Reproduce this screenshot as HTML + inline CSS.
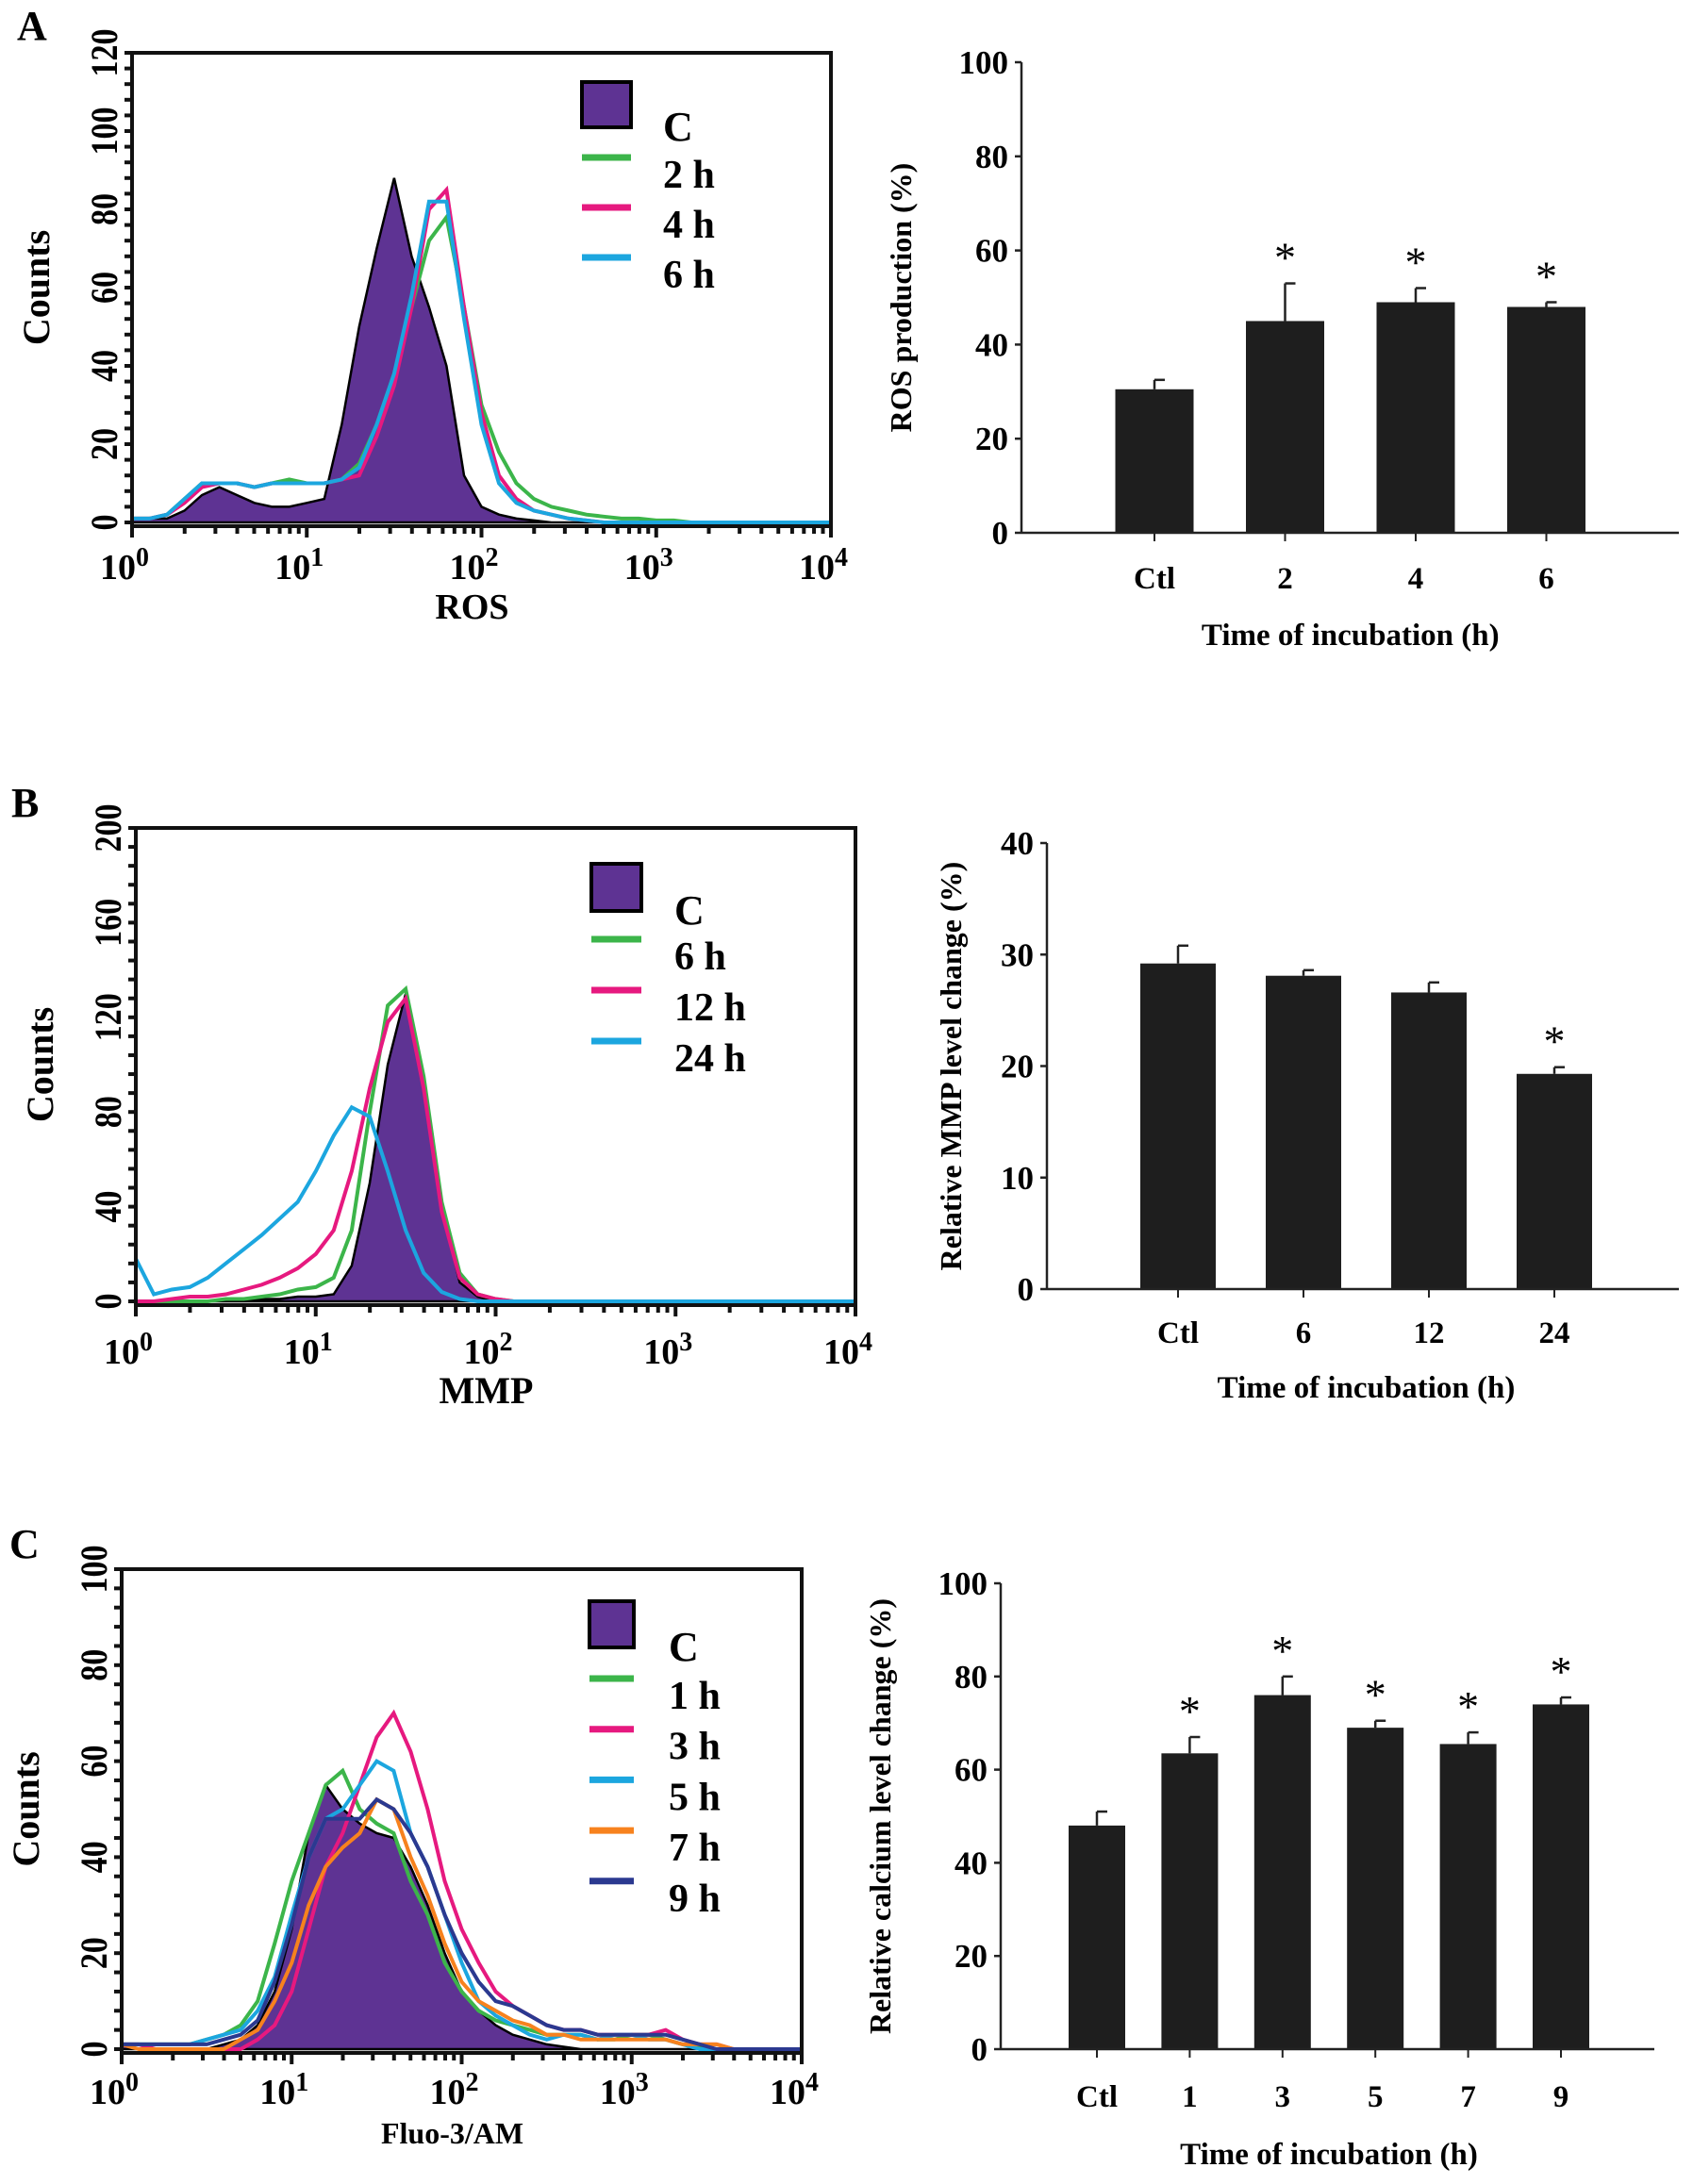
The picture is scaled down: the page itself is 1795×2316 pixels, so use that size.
<!DOCTYPE html>
<html><head><meta charset="utf-8"><style>
html,body{margin:0;padding:0;background:#fff}
svg{display:block;font-family:"Liberation Serif",serif;font-weight:bold}
</style></head><body>
<svg id="fig" width="1795" height="2316" viewBox="0 0 1795 2316" xmlns="http://www.w3.org/2000/svg"></svg>
<script>
// ---- Panel A histogram data (counts per 0.1 log-decade bin from 10^0) ----
const aC  = [1,1,1,3,7,9,7,5,4,4,5,6,25,50,70,88,68,55,40,12,4,2,1,0.5,0,0,0,0,0,0,0,0,0,0,0,0,0,0,0,0,0];
const a2h = [1,1,2,6,10,10,10,9,10,11,10,10,11,15,25,38,55,72,78,55,30,18,10,6,4,3,2,1.5,1,1,0.5,0.5,0,0,0,0,0,0,0,0,0];
const a4h = [1,1,2,5,9,10,10,9,10,10,10,10,11,12,22,35,55,80,85,55,28,12,6,3,2,1,0.5,0,0,0,0,0,0,0,0,0,0,0,0,0,0];
const a6h = [1,1,2,6,10,10,10,9,10,10,10,10,11,14,25,38,58,82,82,52,25,10,5,3,2,1,0.5,0,0,0,0,0,0,0,0,0,0,0,0,0,0];
// ---- Panel B histogram data ----
const bC   = [0,0,0,0,0,0,1,1,1,2,2,3,15,50,100,130,90,40,8,2,0,0,0,0,0,0,0,0,0,0,0,0,0,0,0,0,0,0,0,0,0];
const b6h  = [0,0,0,0,0,1,1,2,3,5,6,10,30,80,125,132,95,42,12,3,1,0,0,0,0,0,0,0,0,0,0,0,0,0,0,0,0,0,0,0,0];
const b12h = [0,0,1,2,2,3,5,7,10,14,20,30,55,90,118,128,90,38,10,3,1,0,0,0,0,0,0,0,0,0,0,0,0,0,0,0,0,0,0,0,0];
const b24h = [18,3,5,6,10,16,22,28,35,42,55,70,82,78,55,30,12,4,1,0,0,0,0,0,0,0,0,0,0,0,0,0,0,0,0,0,0,0,0,0,0];
// ---- Panel C histogram data ----
const cC  = [1,0,0,0,0,0,1,2,5,12,25,45,55,50,47,45,44,38,30,20,12,8,5,3,2,1,0.5,0,0,0,0,0,0,0,0,0,0,0,0,0,0];
const c1h = [1,1,1,1,1,2,3,5,10,22,35,45,55,58,50,47,45,35,28,18,12,8,6,5,4,3,3,3,2,2,3,3,2,1,0.5,0,0,0,0,0,0];
const c3h = [1,1,0,0,0,0,0,0,2,5,12,25,38,45,55,65,70,62,50,35,25,18,12,9,7,5,4,4,3,3,3,3,4,2,1,1,0,0,0,0,0];
const c5h = [1,1,1,1,1,2,3,4,8,15,28,40,48,50,55,60,58,45,38,28,18,10,7,5,3,2,3,3,2,3,3,2,2,1,0,0,0,0,0,0,0];
const c7h = [1,0,0,0,0,0,0,2,4,10,18,30,38,42,45,52,50,40,32,22,14,10,8,6,5,3,3,2,2,2,2,2,2,1,1,1,0,0,0,0,0];
const c9h = [1,1,1,1,1,1,2,3,6,14,26,40,48,48,48,52,50,45,38,28,20,14,10,9,7,5,4,4,3,3,3,3,3,2,1,0,0,0,0,0,0];
// ---- Bar chart data ----
const barACats = ["Ctl","2","4","6"];
const barAVals = [30.5,45,49,48];
const barAErr  = [2,8,3,1];
const barASig  = [false,true,true,true];
const barATicks = [0,20,40,60,80,100];
const barBCats = ["Ctl","6","12","24"];
const barBVals = [29.2,28.1,26.6,19.3];
const barBErr  = [1.6,0.5,0.9,0.6];
const barBSig  = [false,false,false,true];
const barBTicks = [0,10,20,30,40];
const barCCats = ["Ctl","1","3","5","7","9"];
const barCVals = [48,63.5,76,69,65.5,74];
const barCErr  = [3,3.5,4,1.5,2.5,1.5];
const barCSig  = [false,true,true,true,true,true];
const barCTicks = [0,20,40,60,80,100];
const histATicks = [0,20,40,60,80,100,120];
const histBTicks = [0,40,80,120,160,200];
const histCTicks = [0,20,40,60,80,100];

const NS="http://www.w3.org/2000/svg";
const svg=document.getElementById('fig');
function mk(tag,attrs,parent,text){const e=document.createElementNS(NS,tag);for(const k in attrs)e.setAttribute(k,attrs[k]);if(text!==undefined)e.textContent=text;(parent||svg).appendChild(e);return e;}

function hist(g,box,ymax,yticks,series,legendItems,leg,xlabel,xlabY,xlabSize){
  const {l,t,r,b}=box;
  const sx=v=>l+(v/4)*(r-l);
  const sy=v=>b-(v/ymax)*(b-t);
  series.forEach(s=>{
    let pts=s.data.map((v,i)=>[sx(i*0.1),sy(v)]);
    const d='M'+pts.map(p=>p[0].toFixed(1)+','+p[1].toFixed(1)).join(' L');
    if(s.fill){
      const p=mk('path',{d:d+` L${sx(4)},${b} L${l},${b} Z`,fill:'#5e3393',stroke:'#000','stroke-width':2.5},g);
      
      
    } else {
      const p=mk('path',{d:d,fill:'none',stroke:s.color,'stroke-width':4},g);
      
      
    }
  });
  const fr=mk('rect',{x:l,y:t,width:r-l,height:b-t+4,fill:'none',stroke:'#111','stroke-width':4},g);
  
  
  const step=(yticks[1]-yticks[0])/5;
  for(let v=0;v<=ymax+0.01;v+=step){mk('line',{x1:l-8,x2:l,y1:sy(v),y2:sy(v),stroke:'#111','stroke-width':4},g);}
  yticks.forEach(v=>{
    const y=sy(v);
    const tx=mk('text',{x:0,y:0,transform:`translate(${l-16},${y}) rotate(-90) scale(0.85,1)`,'text-anchor':'middle','font-size':40},g,String(v));
    
    
  });
  for(let dcd=0;dcd<4;dcd++){for(let k=1;k<10;k++){const x=sx(dcd+Math.log10(k));mk('line',{x1:x,x2:x,y1:b+4,y2:b+(k===1?16:12),stroke:'#111','stroke-width':4},g);}}
  mk('line',{x1:sx(4),x2:sx(4),y1:b+4,y2:b+16,stroke:'#111','stroke-width':4},g);
  for(let dcd=0;dcd<=4;dcd++){
    const tx=mk('text',{x:sx(dcd)-8,y:xlabY,'text-anchor':'middle','font-size':38},g);
    
    
    mk('tspan',{},tx,'10');
    mk('tspan',{dy:-14,'font-size':28},tx,String(dcd));
  }
  const xl=mk('text',{x:(l+r)/2-10,y:xlabY+42,'text-anchor':'middle','font-size':xlabSize},g,xlabel);
  
  
  const yl=mk('text',{x:0,y:0,transform:`translate(${l-88},${(t+b)/2}) rotate(-90)`,'text-anchor':'middle','font-size':40},g,'Counts');
  
  
  const sq=mk('rect',{x:leg.x,y:leg.sqTop,width:leg.w,height:leg.sqH,fill:'#5e3393',stroke:'#000','stroke-width':4},g);
  
  
  const ct=mk('text',{x:leg.tx,y:leg.sqTop+leg.sqH+14,'font-size':44},g,'C');
  
  
  legendItems.forEach((it,i)=>{
    const y=leg.y0+i*leg.dy;
    const ln=mk('line',{x1:leg.x,x2:leg.x+leg.w,y1:y,y2:y,stroke:it.color,'stroke-width':7},g);
    
    
    const lt=mk('text',{x:leg.tx,y:y+32,'font-size':42},g,it.name);
    
    
  });
}

function bars(g,box,ymax,yticks,cats,vals,errs,sig,bw,ylabel,ylx,labY,titleY){
  const {l,t,b,r,x0,dx}=box;
  const sy=v=>b-(v/ymax)*(b-t);
  cats.forEach((c,i)=>{
    const cx=x0+i*dx;
    const top=sy(vals[i]);
    const e=sy(vals[i]+errs[i]);
    const el=mk('line',{x1:cx,x2:cx,y1:top,y2:e,stroke:'#222','stroke-width':2.5},g);
    
    
    mk('line',{x1:cx,x2:cx+11,y1:e,y2:e,stroke:'#222','stroke-width':2.5},g);
    const rc=mk('rect',{x:cx-bw/2,y:top,width:bw,height:b-top,fill:'#1e1e1e'},g);
    
    
    mk('line',{x1:cx,x2:cx,y1:b,y2:b+9,stroke:'#222','stroke-width':2},g);
    const lb=mk('text',{x:cx,y:labY,'text-anchor':'middle','font-size':33},g,c);
    
    
    if(sig[i]){
      const st=mk('text',{x:cx,y:e-12,'text-anchor':'middle','font-size':46,'font-weight':'normal'},g,'*');
      
      
    }
  });
  mk('line',{x1:l,x2:l,y1:t,y2:b,stroke:'#222','stroke-width':2.5},g);
  mk('line',{x1:l,x2:r,y1:b,y2:b,stroke:'#222','stroke-width':2.5},g);
  yticks.forEach(v=>{
    const y=sy(v);
    mk('line',{x1:l-7,x2:l,y1:y,y2:y,stroke:'#222','stroke-width':2.5},g);
    const tx=mk('text',{x:l-14,y:y+12,'text-anchor':'end','font-size':35},g,String(v));
    
    
  });
  const yl=mk('text',{x:0,y:0,transform:`translate(${ylx},${(t+b)/2}) rotate(-90)`,'text-anchor':'middle','font-size':32},g,ylabel);
  
  
  const xt=mk('text',{x:x0+dx*(cats.length-1)/2,y:titleY,'text-anchor':'middle','font-size':33},g,'Time of incubation (h)');
  
  
}

function panelLetter(ch,x,y){const t=mk('text',{x:x,y:y,'font-size':44},svg,ch);}

const gA=mk('g',{});
hist(gA,{l:140,t:56,r:881,b:554},120,histATicks,
 [{data:aC,fill:true},{data:a2h,color:'#3cb54a',name:'2 h'},{data:a4h,color:'#e6197f',name:'4 h'},{data:a6h,color:'#1ca6df',name:'6 h'}],
 [{color:'#3cb54a',name:'2 h'},{color:'#e6197f',name:'4 h'},{color:'#1ca6df',name:'6 h'}],
 {x:617,w:52,sqTop:87,sqH:48,tx:703,y0:167,dy:53},'ROS',614,38);
panelLetter('A',18,42);
const gAb=mk('g',{});
bars(gAb,{l:1083,t:66,b:565,r:1780,x0:1224,dx:138.5},100,barATicks,barACats,barAVals,barAErr,barASig,83,'ROS production (%)',966,624,684);

const gB=mk('g',{});
hist(gB,{l:144,t:878,r:907,b:1380},200,histBTicks,
 [{data:bC,fill:true},{data:b6h,color:'#3cb54a',name:'6 h'},{data:b12h,color:'#e6197f',name:'12 h'},{data:b24h,color:'#1ca6df',name:'24 h'}],
 [{color:'#3cb54a',name:'6 h'},{color:'#e6197f',name:'12 h'},{color:'#1ca6df',name:'24 h'}],
 {x:627,w:53,sqTop:916,sqH:50,tx:715,y0:996,dy:54},'MMP',1446,40);
panelLetter('B',12,866);
const gBb=mk('g',{});
bars(gBb,{l:1110,t:894,b:1367,r:1780,x0:1249,dx:133},40,barBTicks,barBCats,barBVals,barBErr,barBSig,80,'Relative MMP level change (%)',1019,1424,1482);

const gC=mk('g',{});
hist(gC,{l:129,t:1664,r:850,b:2173},100,histCTicks,
 [{data:cC,fill:true},{data:c1h,color:'#3cb54a',name:'1 h'},{data:c3h,color:'#e6197f',name:'3 h'},{data:c5h,color:'#1ca6df',name:'5 h'},{data:c7h,color:'#f7821e',name:'7 h'},{data:c9h,color:'#2b3990',name:'9 h'}],
 [{color:'#3cb54a',name:'1 h'},{color:'#e6197f',name:'3 h'},{color:'#1ca6df',name:'5 h'},{color:'#f7821e',name:'7 h'},{color:'#2b3990',name:'9 h'}],
 {x:625,w:47,sqTop:1698,sqH:49,tx:709,y0:1780,dy:53.7},'Fluo-3/AM',2231,32);
panelLetter('C',10,1652);
const gCb=mk('g',{});
bars(gCb,{l:1061,t:1679,b:2173,r:1754,x0:1163,dx:98.4},100,barCTicks,barCCats,barCVals,barCErr,barCSig,60,'Relative calcium level change (%)',944,2234,2295);
</script>
</body></html>
